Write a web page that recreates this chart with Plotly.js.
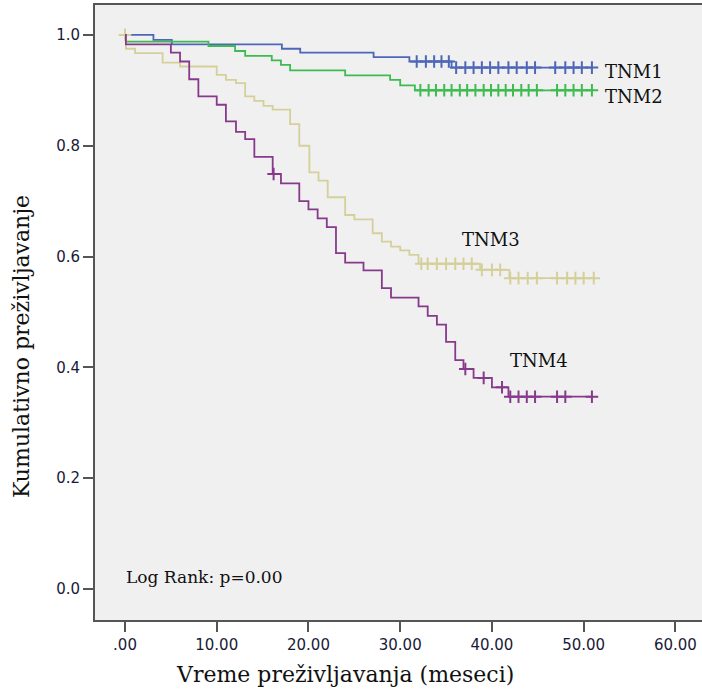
<!DOCTYPE html>
<html>
<head>
<meta charset="utf-8">
<script src="https://cdn.plot.ly/plotly-3.0.1.min.js"></script>
<style>html,body{margin:0;padding:0;background:#fff;}#chart{width:702px;height:695px;}</style>
</head>
<body>
<div id="chart"></div>
<script>
// ---- data ----
const groupNames = ["TNM1", "TNM2", "TNM3", "TNM4"];

const tnm1Time = [0, 3.1, 5.1, 17.1, 19.1, 27.1, 31.0, 35.6];
const tnm1Surv = [1.0, 0.991, 0.983, 0.975, 0.968, 0.960, 0.952, 0.941];
const tnm1Censor = [31.8, 32.8, 33.7, 34.5, 35.3, 36.1, 37.1, 38.0, 38.9, 39.8, 40.7, 41.8, 42.7, 43.8, 44.7, 46.9, 48.0, 48.9, 49.8, 50.9];
const tnm1End = 51.0;

const tnm2Time = [0, 0.1, 9.1, 12.0, 13.1, 16.0, 17.0, 18.0, 24.0, 28.9, 30.0, 31.6];
const tnm2Surv = [1.0, 0.988, 0.980, 0.971, 0.962, 0.954, 0.946, 0.936, 0.927, 0.919, 0.909, 0.900];
const tnm2Censor = [32.2, 33.1, 33.9, 34.8, 35.6, 36.5, 37.3, 38.2, 39.1, 39.9, 40.7, 41.5, 42.3, 43.2, 44.0, 44.9, 47.1, 48.0, 48.9, 49.8, 50.9];
const tnm2End = 51.0;

const tnm3Time = [0, 0.1, 1.1, 4.1, 6.0, 10.0, 11.0, 12.1, 13.1, 14.1, 15.1, 16.1, 18.0, 19.0, 20.1, 21.1, 22.1, 24.0, 25.0, 27.0, 28.0, 29.0, 30.0, 31.0, 32.0, 38.7, 41.9];
const tnm3Surv = [1.0, 0.975, 0.967, 0.950, 0.943, 0.928, 0.919, 0.913, 0.889, 0.881, 0.872, 0.865, 0.839, 0.800, 0.752, 0.737, 0.707, 0.675, 0.667, 0.642, 0.627, 0.618, 0.611, 0.603, 0.587, 0.576, 0.561];
const tnm3Censor = [0, 32.3, 33.0, 34.0, 35.0, 36.0, 36.9, 37.8, 38.9, 40.0, 40.9, 42.0, 42.9, 43.9, 44.9, 47.1, 48.2, 49.1, 50.0, 51.1];
const tnm3End = 51.1;

const tnm4Time = [0, 0.1, 5.0, 6.0, 7.0, 8.0, 10.0, 11.0, 12.1, 13.1, 14.1, 16.1, 17.0, 19.0, 20.0, 21.0, 22.0, 23.0, 24.0, 26.0, 28.0, 29.0, 32.0, 33.0, 34.0, 35.0, 36.0, 36.9, 38.0, 40.0, 41.8];
const tnm4Surv = [1.0, 0.983, 0.968, 0.952, 0.920, 0.889, 0.874, 0.844, 0.825, 0.812, 0.780, 0.749, 0.732, 0.700, 0.685, 0.669, 0.653, 0.606, 0.589, 0.575, 0.543, 0.526, 0.510, 0.493, 0.477, 0.446, 0.413, 0.397, 0.381, 0.364, 0.347];
const tnm4Censor = [16.2, 37.1, 39.1, 41.1, 42.0, 42.9, 43.8, 44.7, 47.1, 48.0, 50.9];
const tnm4End = 51.0;

const xTickVals = [0, 10, 20, 30, 40, 50, 60];
const xTickText = [".00", "10.00", "20.00", "30.00", "40.00", "50.00", "60.00"];
const yTickVals = [0, 0.2, 0.4, 0.6, 0.8, 1.0];
const yTickText = ["0.0", "0.2", "0.4", "0.6", "0.8", "1.0"];

const colors = ["#4d66b8", "#3dbb4f", "#d5d09a", "#873a8c"];

// ---- build traces ----
function survAt(times, surv, t) {
  let v = surv[0];
  for (let i = 0; i < times.length; i++) { if (times[i] <= t) v = surv[i]; }
  return v;
}
const groups = [
  [tnm1Time, tnm1Surv, tnm1Censor, tnm1End],
  [tnm2Time, tnm2Surv, tnm2Censor, tnm2End],
  [tnm3Time, tnm3Surv, tnm3Censor, tnm3End],
  [tnm4Time, tnm4Surv, tnm4Censor, tnm4End]
];
const traces = [];
groups.forEach((g, i) => {
  const [t, s, c, end] = g;
  traces.push({
    type: "scatter", mode: "lines", name: groupNames[i],
    x: t.concat([end]), y: s.concat([s[s.length - 1]]),
    line: {shape: "hv", color: colors[i], width: 1.8},
    showlegend: false, hoverinfo: "skip"
  });
  traces.push({
    type: "scatter", mode: "markers", name: groupNames[i] + " censored",
    x: c, y: c.map(v => survAt(t, s, v)),
    marker: {symbol: "cross-thin-open", size: 9, color: colors[i], line: {color: colors[i], width: 2}},
    showlegend: false, hoverinfo: "skip"
  });
});
const serif = "DejaVu Serif";
const layout = {
  width: 702, height: 695,
  margin: {l: 95, r: 0, t: 5, b: 75},
  paper_bgcolor: "#ffffff",
  plot_bgcolor: "#f0f0f0",
  showlegend: false,
  xaxis: {
    range: [-3.27, 62.9], tickvals: xTickVals, ticktext: xTickText,
    showgrid: false, zeroline: false,
    showline: true, linecolor: "#555555", linewidth: 2, mirror: true,
    ticks: "outside", ticklen: 10, tickwidth: 2, tickcolor: "#555555",
    tickfont: {family: "DejaVu Sans", size: 15, color: "#1a1a38"}
  },
  yaxis: {
    range: [-0.056, 1.054], tickvals: yTickVals, ticktext: yTickText,
    showgrid: false, zeroline: false,
    showline: true, linecolor: "#555555", linewidth: 2,
    ticks: "outside", ticklen: 10, tickwidth: 2, tickcolor: "#555555",
    tickfont: {family: "DejaVu Sans", size: 15, color: "#1a1a38"}
  },
  annotations: [
    {x: 52.1, y: 0.934, xref: "x", yref: "y", text: "TNM1", showarrow: false, xanchor: "left", yanchor: "middle", font: {family: serif, size: 18, color: "#111"}},
    {x: 52.1, y: 0.889, xref: "x", yref: "y", text: "TNM2", showarrow: false, xanchor: "left", yanchor: "middle", font: {family: serif, size: 18, color: "#111"}},
    {x: 36.5, y: 0.630, xref: "x", yref: "y", text: "TNM3", showarrow: false, xanchor: "left", yanchor: "middle", font: {family: serif, size: 18, color: "#111"}},
    {x: 41.8, y: 0.413, xref: "x", yref: "y", text: "TNM4", showarrow: false, xanchor: "left", yanchor: "middle", font: {family: serif, size: 18, color: "#111"}},
    {x: -0.1, y: 0.022, xref: "x", yref: "y", text: "Log Rank: p=0.00", showarrow: false, xanchor: "left", yanchor: "middle", font: {family: serif, size: 17, color: "#111"}},
    {x: 0.412, y: -0.089, xref: "paper", yref: "paper", text: "Vreme preživljavanja (meseci)", showarrow: false, xanchor: "center", yanchor: "middle", font: {family: serif, size: 22, color: "#111"}},
    {x: -0.120, y: 0.444, xref: "paper", yref: "paper", text: "Kumulativno preživljavanje", textangle: -90, showarrow: false, xanchor: "center", yanchor: "middle", font: {family: serif, size: 22, color: "#111"}}
  ]
};
Plotly.newPlot("chart", traces, layout, {displayModeBar: false, staticPlot: true});
</script>
</body>
</html>
